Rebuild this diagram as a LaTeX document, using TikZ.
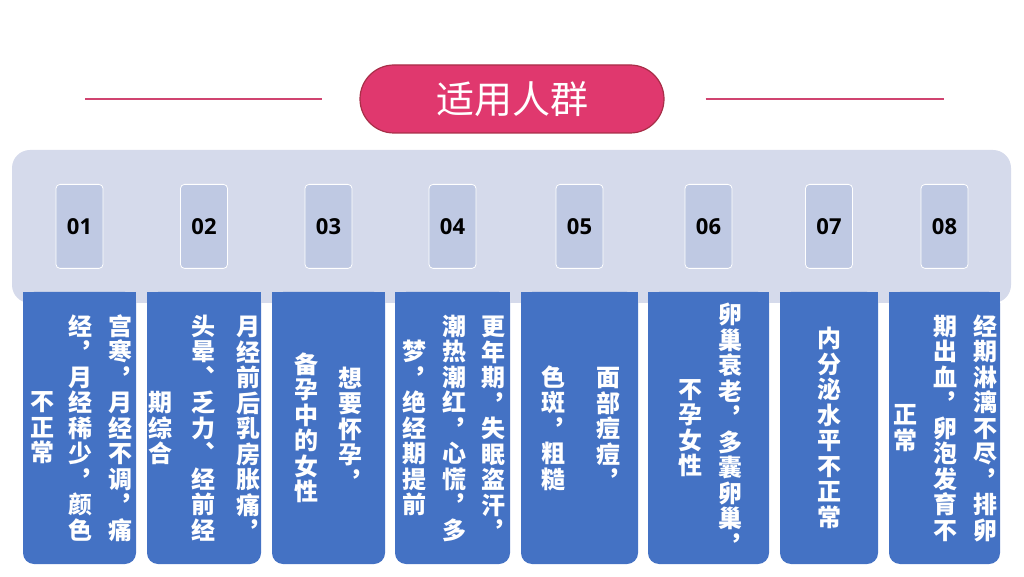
\documentclass[tikz,border=0pt]{standalone}
\usepackage{fontspec}
\usepackage{xcolor}
\usepackage{tikz}
\usetikzlibrary{positioning}
\newfontfamily\cjk{Noto Sans CJK SC}
\newfontfamily\numfont{Open Sans}
\definecolor{panel}{HTML}{D5DAEB}
\definecolor{tabblue}{HTML}{BFC9E3}
\definecolor{cardblue}{HTML}{4472C4}
\definecolor{titlepink}{HTML}{E0386E}
\definecolor{titleedge}{HTML}{A82E48}
\definecolor{rulepink}{HTML}{D04470}
% one character per line, read top to bottom
\ExplSyntaxOn
\NewDocumentCommand\vcol{m}{
  \vbox{\skip_set:Nn\baselineskip{25.5pt}\dim_set:Nn\lineskiplimit{-100pt}
    \tl_map_inline:nn{#1}{\hbox_to_wd:nn{25pt}{\hss##1\hss}}}
}
\ExplSyntaxOff
\tikzset{
  titlebox/.style={
    fill=titlepink, draw=titleedge, line width=1.2pt,
    rounded corners=34pt, minimum width=304pt, minimum height=68pt,
    text=white, font=\cjk\fontsize{38}{40}\selectfont,
  },
  rule/.style={draw=rulepink, line width=1.5pt},
  panelbox/.style={
    fill=panel, rounded corners=18pt,
    minimum width=999pt, minimum height=153pt,
  },
  numtab/.style={
    fill=tabblue, draw=white, line width=0.8pt, rounded corners=4pt,
    minimum width=47pt, minimum height=84pt,
    font=\numfont\bfseries\fontsize{22}{24}\selectfont,
  },
  card/.style={fill=cardblue, rounded corners=11pt, minimum height=272pt},
  vtext/.style={text=white, inner sep=0pt,
    font=\cjk\bfseries\fontsize{24}{25.5}\selectfont},
}

\begin{document}
\begin{tikzpicture}[x=1pt, y=1pt]
  \useasboundingbox (0,0) rectangle (1024,576);

  % heading
  \node[titlebox] (title) at (512,477) {适用人群};
  \coordinate (lineL) at (85,477);
  \coordinate (lineR) at (944,477);
  \draw[rule] (lineL) -- ([xshift=-37pt]title.west);
  \draw[rule] ([xshift=41pt]title.east) -- (lineR);

  % strip behind the numbers
  \node[panelbox] (panel) at (511.5,349.5) {};

  % cards
  \node[card, minimum width=113pt] (b1) at (79.5,148) {};
  \node[card, minimum width=114pt] (b2) at (204,148) {};
  \node[card, minimum width=113pt] (b3) at (328.5,148) {};
  \node[card, minimum width=115pt] (b4) at (452.5,148) {};
  \node[card, minimum width=117pt] (b5) at (579.5,148) {};
  \node[card, minimum width=121pt] (b6) at (708.5,148) {};
  \node[card, minimum width=98pt]  (b7) at (829,148) {};
  \node[card, minimum width=111pt] (b8) at (944.5,148) {};
  \fill[cardblue] (b1.north west) rectangle (b1.east);
  \fill[cardblue] (b2.north west) rectangle (b2.east);
  \fill[cardblue] (b3.north west) rectangle (b3.east);
  \fill[cardblue] (b4.north west) rectangle (b4.east);
  \fill[cardblue] (b5.north west) rectangle (b5.east);
  \fill[cardblue] (b6.north west) rectangle (b6.east);
  \fill[cardblue] (b7.north west) rectangle (b7.east);
  \fill[cardblue] (b8.north west) rectangle (b8.east);

  % number tabs
  \node[numtab, above=23pt of b1] (n1) {01};
  \node[numtab, above=23pt of b2] (n2) {02};
  \node[numtab, above=23pt of b3] (n3) {03};
  \node[numtab, above=23pt of b4] (n4) {04};
  \node[numtab, above=23pt of b5] (n5) {05};
  \node[numtab, above=23pt of b6] (n6) {06};
  \node[numtab, above=23pt of b7] (n7) {07};
  \node[numtab, above=23pt of b8] (n8) {08};

  % vertical text, columns read right to left
  \node[vtext] (t1a) at (120,148) {\vcol{宫寒︐月经不调︐痛}};
  \node[vtext] (t1b) at (80,148)  {\vcol{经︐月经稀少︐颜色}};
  \node[vtext] (t1c) at (42,148)  {\vcol{不正常}};

  \node[vtext] (t2a) at (248,148) {\vcol{月经前后乳房胀痛︐}};
  \node[vtext] (t2b) at (203,148) {\vcol{头晕︑乏力︑经前经}};
  \node[vtext] (t2c) at (160,148) {\vcol{期综合}};

  \node[vtext] (t3a) at (350,148) {\vcol{想要怀孕︐}};
  \node[vtext] (t3b) at (306,148) {\vcol{备孕中的女性}};

  \node[vtext] (t4a) at (493,148) {\vcol{更年期︐失眠盗汗︐}};
  \node[vtext] (t4b) at (454,148) {\vcol{潮热潮红︐心慌︐多}};
  \node[vtext] (t4c) at (414,148) {\vcol{梦︐绝经期提前}};

  \node[vtext] (t5a) at (608,148) {\vcol{面部痘痘︐}};
  \node[vtext] (t5b) at (553,148) {\vcol{色斑︐粗糙}};

  \node[vtext] (t6a) at (730,148) {\vcol{卵巢衰老︐多囊卵巢︐}};
  \node[vtext] (t6b) at (690,148) {\vcol{不孕女性}};

  \node[vtext] (t7a) at (829,148) {\vcol{内分泌水平不正常}};

  \node[vtext] (t8a) at (985,148) {\vcol{经期淋漓不尽︐排卵}};
  \node[vtext] (t8b) at (945,148) {\vcol{期出血︐卵泡发育不}};
  \node[vtext] (t8c) at (905,148) {\vcol{正常}};

\end{tikzpicture}
\end{document}
